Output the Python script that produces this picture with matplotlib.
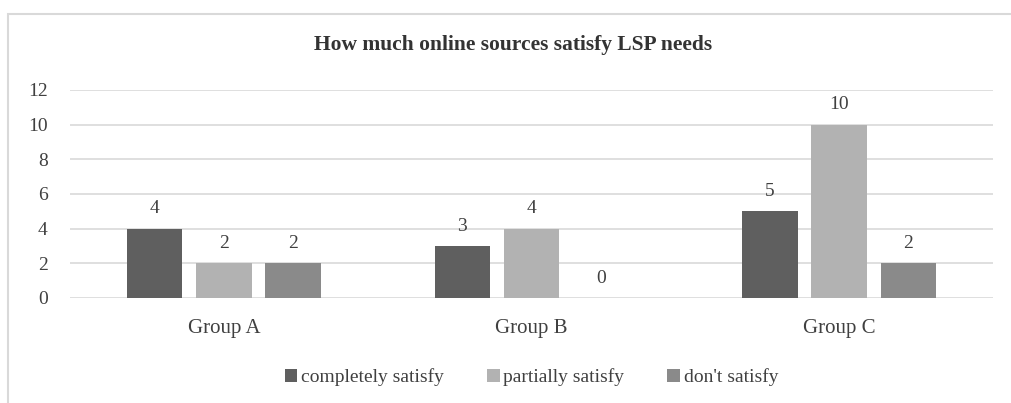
import matplotlib.pyplot as plt
from matplotlib.patches import Rectangle
import numpy as np

groups = ['Group A', 'Group B', 'Group C']
series_names = ['completely satisfy', 'partially satisfy', "don't satisfy"]
completely = [4, 3, 5]
partially = [2, 4, 10]
dont = [2, 0, 2]
colors = ['#5f5f5f', '#b2b2b2', '#8a8a8a']

plt.rcParams['font.family'] = ['Liberation Serif', 'DejaVu Serif']

fig = plt.figure(figsize=(10.11, 4.03), dpi=100)

# light outer frame around the chart
fig.patches.append(Rectangle((8 / 1011, -0.01), 1.1, 1 - 14 / 403 + 0.01,
                             transform=fig.transFigure, fill=False,
                             edgecolor='#d9d9d9', linewidth=1.5))

ax = fig.add_axes([70 / 1011, 1 - 298 / 403, 923 / 1011, 208 / 403])

x = np.arange(len(groups))
width = 0.18
step = 0.225
for i, (vals, name) in enumerate(zip([completely, partially, dont], series_names)):
    pos = x + (i - 1) * step
    ax.bar(pos, vals, width, color=colors[i], label=name, zorder=3)
    for px, v in zip(pos, vals):
        ax.text(px, v + 0.65, str(v), ha='center', va='bottom',
                fontsize=14, color='#404040')

ax.set_xlim(-0.5, len(groups) - 0.5)
ax.set_ylim(0, 12)
ax.set_yticks(range(0, 13, 2))
ax.yaxis.grid(True, color='#d9d9d9', linewidth=1.2, zorder=0)
for s in ax.spines.values():
    s.set_visible(False)
ax.tick_params(axis='both', length=0, labelsize=14, colors='#404040')
ax.tick_params(axis='y', pad=16)
ax.tick_params(axis='x', pad=15, labelsize=15)
ax.set_xticks(x)
ax.set_xticklabels(groups)

fig.text(0.507, 1 - 45 / 403, 'How much online sources satisfy LSP needs',
         ha='center', va='center', fontsize=15.5, fontweight='bold', color='#333333')

ax.legend(loc='center', bbox_to_anchor=(0.5, (1 - 377 / 403 - (1 - 298 / 403)) / (208 / 403)),
          ncol=3, frameon=False, fontsize=14, handlelength=0.65, handleheight=0.65,
          handletextpad=0.2, columnspacing=2.2, labelcolor='#404040')

fig.savefig('out.png', dpi=100)
